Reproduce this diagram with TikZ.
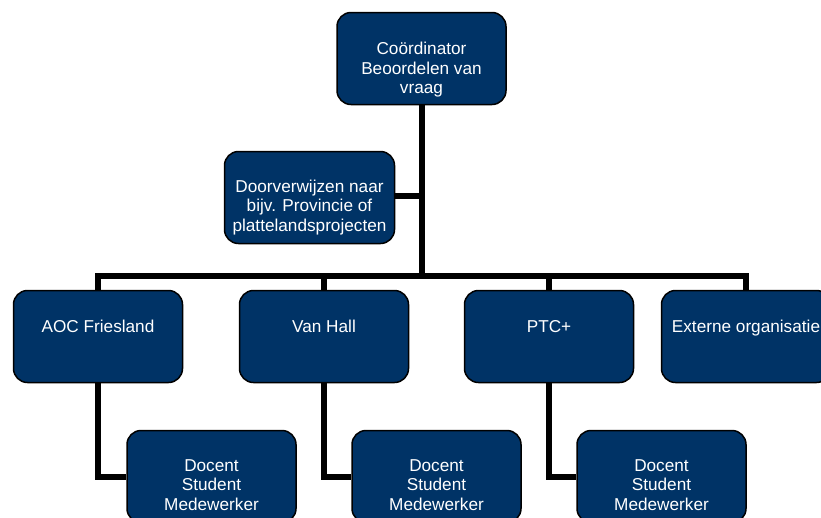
\documentclass[tikz,border=0pt]{standalone}
\usepackage{fontspec}
\setmainfont{Liberation Sans}
\usetikzlibrary{backgrounds}
\definecolor{navy}{RGB}{0,51,102}
\begin{document}
\begin{tikzpicture}[x=1pt,y=-1pt,
  box/.style={draw=black, line width=1.5pt, fill=navy, rounded corners=14pt,
    minimum width=169pt, minimum height=92pt, inner sep=0pt},
  txt/.style={text=white, align=center, inner sep=0pt,
    font=\fontsize{17.2}{19.5}\selectfont},
  conn/.style={draw=black, line width=6pt}]
\clip (0,0) rectangle (821,517);
\useasboundingbox (0,0) rectangle (821,517);
% boxes
\node[box] (top) at (421.5,58.5) {};
\node[box, minimum width=170pt] (door) at (309.5,197.5) {};
\node[box] (aoc) at (98,336.5) {};
\node[box] (vh) at (324,336.5) {};
\node[box] (ptc) at (549,336.5) {};
\node[box] (ext) at (746,336.5) {};
\node[box] (d1) at (211.5,476.5) {};
\node[box] (d2) at (436.5,476.5) {};
\node[box] (d3) at (661.5,476.5) {};
\coordinate (j) at (421.5,276);
% connectors behind the boxes
\begin{scope}[on background layer]
\draw[conn] (top.south) -- (j);
\draw[conn] ([yshift=2pt]door.east) -- ([yshift=2pt]door.east -| j);
\draw[conn] (aoc.north) |- (j) -| (ext.north);
\draw[conn] (vh.north) -- (vh.north |- j);
\draw[conn] (ptc.north) -- (ptc.north |- j);
\draw[conn] (aoc.south) |- (d1.west);
\draw[conn] (vh.south) |- (d2.west);
\draw[conn] (ptc.south) |- (d3.west);
\end{scope}
% texts
\node[txt] (toptxt) at (421.5,70) {Coördinator\\Beoordelen van\\vraag};
\node[txt] (doortxt) at (309.5,207.5) {Doorverwijzen naar\\bijv. Provincie of\\plattelandsprojecten};
\node[txt, anchor=base] (aoctxt) at (98,332) {AOC Friesland};
\node[txt, anchor=base] (vhtxt) at (324,332) {Van Hall};
\node[txt, anchor=base] (ptctxt) at (549,332) {PTC+};
\node[txt, anchor=base] (exttxt) at (746,332) {Externe organisatie};
\node[txt] (d1txt) at (211.5,485) {Docent\\Student\\Medewerker};
\node[txt] (d2txt) at (436.5,485) {Docent\\Student\\Medewerker};
\node[txt] (d3txt) at (661.5,485) {Docent\\Student\\Medewerker};
\end{tikzpicture}
\end{document}
